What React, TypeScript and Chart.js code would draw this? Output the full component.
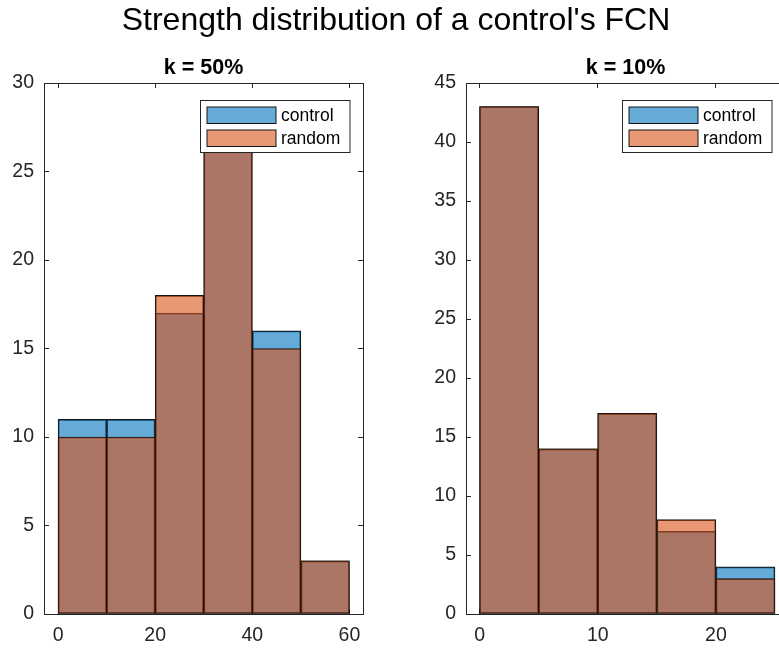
import React, { useEffect, useRef } from 'react';
import { Chart, registerables } from 'chart.js';

Chart.register(...registerables);

// ---------------- data ----------------
const mainTitle = "Strength distribution of a control's FCN";
const seriesNames = ['control', 'random'];

const leftTitle = 'k = 50%';
const leftBinCenters = [5, 15, 25, 35, 45, 55];
const leftControl = [11, 11, 17, 27, 16, 3];
const leftRandom = [10, 10, 18, 29, 15, 3];

const rightTitle = 'k = 10%';
const rightBinCenters = [2.5, 7.5, 12.5, 17.5, 22.5];
const rightControl = [43, 14, 17, 7, 4];
const rightRandom = [43, 14, 17, 8, 3];

// ---------------- styles ----------------
const FONT = '"Liberation Sans", Arial, Helvetica, sans-serif';
const AXIS = '#262626';
const CONTROL_FILL = 'rgba(0,114,189,0.6)';
const RANDOM_FILL = 'rgba(217,83,25,0.6)';
const EDGE = '#141414';

const boxLegend = {
  id: 'boxLegend',
  afterDatasetsDraw(chart: any) {
    const { ctx, chartArea } = chart;
    const w = 149.5;
    const h = 52;
    const x = Math.round(chartArea.right - 13.4 - w) + 0.5;
    const y = Math.round(chartArea.top + 17.2) + 0.5;
    ctx.save();
    ctx.fillStyle = '#ffffff';
    ctx.fillRect(x - 0.5, y - 0.5, w + 1, h + 1);
    ctx.strokeStyle = AXIS;
    ctx.lineWidth = 1;
    ctx.strokeRect(x, y, w, h);
    chart.data.datasets.forEach((ds: any, i: number) => {
      const px = x + 6.5;
      const py = Math.round(y + 6 + i * 23.3);
      const pw = 69;
      const ph = 16.5;
      ctx.fillStyle = ds.backgroundColor;
      ctx.fillRect(px, py, pw, ph);
      ctx.strokeStyle = EDGE;
      ctx.strokeRect(px, py, pw, ph);
      ctx.fillStyle = '#000';
      ctx.font = `17.5px ${FONT}`;
      ctx.textBaseline = 'middle';
      ctx.textAlign = 'left';
      ctx.fillText(ds.label, x + 80.5, py + ph / 2 + 0.5);
    });
    ctx.restore();
  },
};

function makeConfig(
  title: string,
  centers: number[],
  control: number[],
  random: number[],
  xMin: number,
  xMax: number,
  xStep: number,
  yMax: number
): any {
  const tickFont = { family: FONT, size: 19.5, lineHeight: 1 };
  const grid = {
    drawOnChartArea: false,
    drawTicks: true,
    tickLength: -5,
    color: AXIS,
    lineWidth: 1,
    offset: false,
  };
  const border = { display: true, color: AXIS, width: 1 };
  const barCommon = {
    borderColor: EDGE,
    borderWidth: 1,
    borderSkipped: false,
    grouped: false,
    barPercentage: 1,
    categoryPercentage: 1,
  };
  return {
    type: 'bar',
    data: {
      datasets: [
        {
          ...barCommon,
          label: seriesNames[0],
          data: centers.map((x, i) => ({ x, y: control[i] })),
          backgroundColor: CONTROL_FILL,
          order: 2,
        },
        {
          ...barCommon,
          label: seriesNames[1],
          data: centers.map((x, i) => ({ x, y: random[i] })),
          backgroundColor: RANDOM_FILL,
          order: 1,
        },
      ],
    },
    options: {
      responsive: false,
      animation: false,
      devicePixelRatio: 1,
      layout: { padding: 0 },
      plugins: {
        legend: { display: false },
        tooltip: { enabled: false },
        title: {
          display: true,
          text: title,
          color: '#000',
          font: { family: FONT, size: 21.5, weight: 'bold', lineHeight: 1 },
          padding: { top: 57.75, bottom: 3.75 },
        },
      },
      scales: {
        x: {
          type: 'linear',
          position: 'bottom',
          offset: false,
          min: xMin,
          max: xMax,
          ticks: {
            stepSize: xStep,
            includeBounds: false,
            color: AXIS,
            font: tickFont,
            padding: 17,
            maxRotation: 0,
            autoSkip: false,
          },
          grid,
          border,
          afterFit: (s: any) => {
            s.height = 34;
          },
        },
        x2: {
          type: 'linear',
          position: 'top',
          offset: false,
          min: xMin,
          max: xMax,
          ticks: { stepSize: xStep, includeBounds: false, display: false },
          grid,
          border,
          afterFit: (s: any) => {
            s.height = 0;
          },
        },
        y: {
          type: 'linear',
          position: 'left',
          min: 0,
          max: yMax,
          ticks: { stepSize: 5, color: AXIS, font: tickFont, padding: 15 },
          grid,
          border,
          afterFit: (s: any) => {
            s.width = 44;
          },
        },
        y2: {
          type: 'linear',
          position: 'right',
          min: 0,
          max: yMax,
          ticks: { stepSize: 5, display: false },
          grid,
          border,
          afterFit: (s: any) => {
            s.width = 44;
          },
        },
      },
    },
    plugins: [boxLegend],
  };
}

export default function App() {
  const leftRef = useRef<HTMLCanvasElement>(null);
  const rightRef = useRef<HTMLCanvasElement>(null);

  useEffect(() => {
    const c1 = new Chart(
      leftRef.current as HTMLCanvasElement,
      makeConfig(leftTitle, leftBinCenters, leftControl, leftRandom, -2.9, 62.8, 20, 30)
    );
    const c2 = new Chart(
      rightRef.current as HTMLCanvasElement,
      makeConfig(rightTitle, rightBinCenters, rightControl, rightRandom, -1.15, 25.85, 10, 45)
    );
    return () => {
      c1.destroy();
      c2.destroy();
    };
  }, []);

  return (
    <div
      style={{
        position: 'fixed',
        left: 0,
        top: 0,
        width: 779,
        height: 648,
        overflow: 'hidden',
        background: '#fff',
      }}
    >
      <canvas
        ref={leftRef}
        width={407}
        height={648}
        style={{ position: 'absolute', left: 0, top: 0 }}
      />
      <canvas
        ref={rightRef}
        width={407}
        height={648}
        style={{ position: 'absolute', left: 422, top: 0 }}
      />
      <div
        style={{
          position: 'absolute',
          left: 0,
          top: 3,
          width: 792,
          textAlign: 'center',
          fontFamily: FONT,
          fontSize: 32,
          lineHeight: '32px',
          color: '#000',
          whiteSpace: 'nowrap',
        }}
      >
        {mainTitle}
      </div>
    </div>
  );
}
